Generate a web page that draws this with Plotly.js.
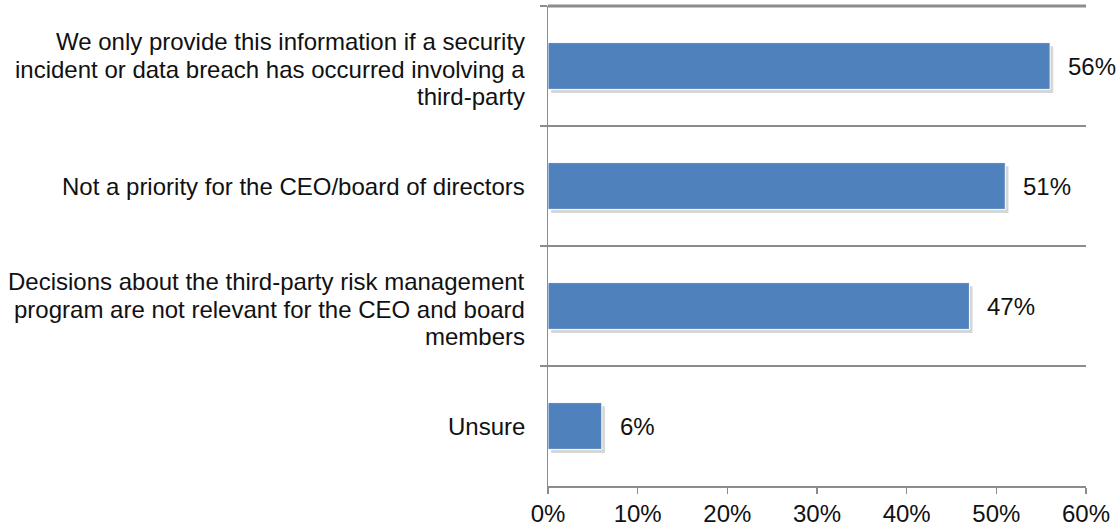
<!DOCTYPE html>
<html>
<head>
<meta charset="utf-8">
<script src="https://cdn.plot.ly/plotly-3.0.1.min.js"></script>
<style>html,body{margin:0;padding:0;background:#fff;}#chart{width:1120px;height:529px;}</style>
</head>
<body>
<div id="chart"></div>
<script>
var categories = [
  "We only provide this information if a security<br>incident or data breach has occurred involving a<br>third-party",
  "Not a priority for the CEO/board of directors",
  "Decisions about the third-party risk management<br>program are not relevant for the CEO and board<br>members",
  "Unsure"
];
var values = [56, 51, 47, 6];
var valueLabels = ["56%", "51%", "47%", "6%"];
var xTickVals = [0, 10, 20, 30, 40, 50, 60];
var xTickLabels = ["0%", "10%", "20%", "30%", "40%", "50%", "60%"];

var barWidth = 0.39;
var font = {family: "Liberation Sans, Arial, sans-serif", size: 24, color: "#111"};
var lineColor = "#8c8c8c";
var labelLineSpacing = 27.5;

var shadow = {
  type: "bar", orientation: "h", y: categories, x: values,
  base: 0.35, width: barWidth, offset: -barWidth / 2 + 0.03,
  marker: {color: "rgba(0,0,0,0.16)", line: {width: 0}},
  hoverinfo: "skip", showlegend: false
};
var bars = {
  type: "bar", orientation: "h", y: categories, x: values,
  width: barWidth,
  marker: {color: "#4f81bd", line: {color: "#ffffff", width: 1}},
  hoverinfo: "skip", showlegend: false
};

var annotations = values.map(function (v, i) {
  return {x: v, y: categories[i], xref: "x", yref: "y", text: valueLabels[i],
    showarrow: false, xanchor: "left", yanchor: "middle", xshift: 16, font: font};
});

categories.forEach(function (cat) {
  var lines = cat.split("<br>");
  var mid = (lines.length - 1) / 2;
  var extra = lines.length > 1 ? -3 : 0;
  lines.forEach(function (ln, j) {
    annotations.push({
      x: 0, xref: "paper", y: cat, yref: "y", text: ln,
      showarrow: false, xanchor: "right", yanchor: "middle",
      xshift: -21, yshift: (mid - j) * labelLineSpacing + extra, font: font
    });
  });
});

var layout = {
  width: 1120, height: 529,
  margin: {l: 548, r: 34, t: 6, b: 43},
  paper_bgcolor: "#fff", plot_bgcolor: "#fff",
  barmode: "overlay",
  font: font,
  xaxis: {
    range: [0, 60], tickmode: "array", tickvals: xTickVals, ticktext: xTickLabels,
    showgrid: false, zeroline: false,
    showline: true, linecolor: lineColor, linewidth: 1.5,
    ticks: "outside", ticklen: 6, tickcolor: lineColor, tickwidth: 1.5,
    tickfont: font, fixedrange: true
  },
  yaxis: {
    type: "category", autorange: "reversed",
    tickson: "boundaries",
    showgrid: true, gridcolor: lineColor, gridwidth: 1.5,
    showline: true, linecolor: lineColor, linewidth: 1.5,
    ticks: "outside", ticklen: 7, tickcolor: lineColor, tickwidth: 1.5,
    showticklabels: false, fixedrange: true
  },
  shapes: [{type: "line", xref: "paper", yref: "paper", x0: 0, x1: 1, y0: 1, y1: 1,
    line: {color: lineColor, width: 3}, layer: "above"}],
  annotations: annotations
};

Plotly.newPlot("chart", [shadow, bars], layout, {displayModeBar: false, staticPlot: true});
</script>
</body>
</html>
